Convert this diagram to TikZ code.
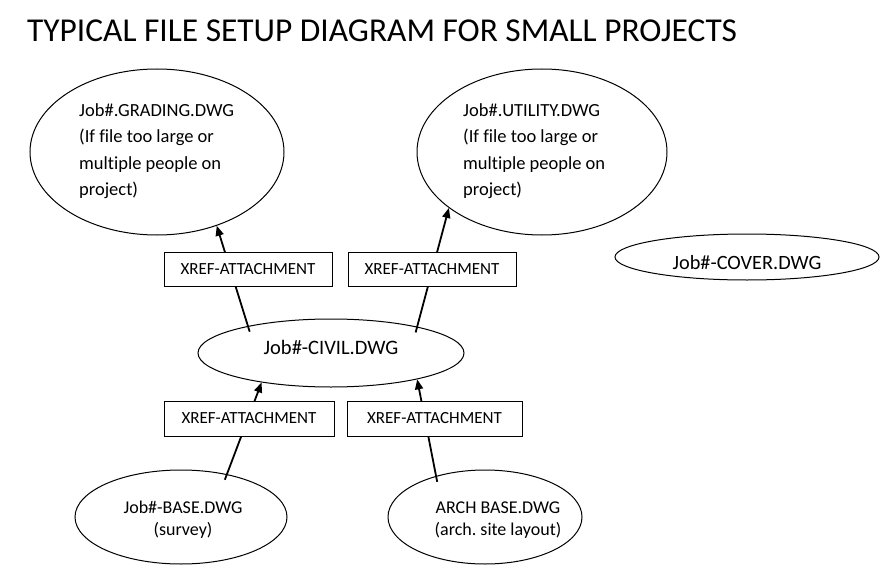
\documentclass[tikz,border=0pt]{standalone}
\usepackage{fontspec}
\setmainfont[Ligatures=NoCommon]{Carlito}
\usetikzlibrary{shapes.geometric,arrows.meta}
\frenchspacing
\tikzset{
  oval/.style={draw=black, ellipse, line width=1pt, inner sep=0pt},
  xbox/.style={draw=black, fill=white, line width=1pt, inner sep=0pt, font=\fontsize{17}{20}\selectfont},
  lbl/.style={inner sep=0pt},
  conn/.style={line width=1.8pt, -{Triangle[length=10pt,width=8pt]}, shorten <=-6pt},
}
\begin{document}
\begin{tikzpicture}[x=1pt,y=-1pt]
\useasboundingbox (0,0) rectangle (894,575);
% title
\node[anchor=west, inner sep=0pt, font=\fontsize{33.4}{40}\selectfont] (title) at (27,31) {TYPICAL FILE SETUP DIAGRAM FOR SMALL PROJECTS};
% ellipses
\node[oval, minimum width=254pt, minimum height=166pt] (grading) at (157,152) {};
\node[oval, minimum width=250pt, minimum height=166pt] (utility) at (542,152) {};
\node[oval, minimum width=266pt, minimum height=68pt] (civil) at (331,353) {};
\node[oval, minimum width=264pt, minimum height=46pt] (cover) at (747,257) {};
\node[oval, minimum width=212pt, minimum height=94pt] (base) at (181,517) {};
\node[oval, minimum width=194pt, minimum height=94pt] (arch) at (485,517) {};
% texts
\node[lbl, align=left, anchor=north west, font=\fontsize{18.5}{26.5}\selectfont] (gradingtxt) at (79,103) {Job\#.GRADING.DWG\\(If file too large or\\multiple people on\\project)};
\node[lbl, align=left, anchor=north west, font=\fontsize{18.5}{26.5}\selectfont] (utilitytxt) at (463,103) {Job\#.UTILITY.DWG\\(If file too large or\\multiple people on\\project)};
\node[lbl, font=\fontsize{20.5}{24}\selectfont] (civiltxt) at (331,347) {Job\#-CIVIL.DWG};
\node[lbl, font=\fontsize{20.3}{24}\selectfont] (covertxt) at (747,263) {Job\#-COVER.DWG};
\node[lbl, align=center, font=\fontsize{18}{22}\selectfont] (basetxt) at (183,520) {Job\#-BASE.DWG\\(survey)};
\node[lbl, align=center, font=\fontsize{18}{22}\selectfont] (archtxt) at (498,520) {ARCH BASE.DWG\\(arch. site layout)};
% connectors
\draw[conn] (civil.162) -- (grading.309);
\draw[conn] (civil.17) -- (utility.211);
\draw[conn] (base.43) -- (civil.203);
\draw[conn] (arch.140) -- (civil.343);
% xref boxes
\node[xbox, minimum width=168pt, minimum height=34pt] (x1) at (248,269) {XREF-ATTACHMENT};
\node[xbox, minimum width=168pt, minimum height=34pt] (x2) at (432,269) {XREF-ATTACHMENT};
\node[xbox, minimum width=170pt, minimum height=35pt] (x3) at (249,418.5) {XREF-ATTACHMENT};
\node[xbox, minimum width=175pt, minimum height=35pt] (x4) at (434.5,418.5) {XREF-ATTACHMENT};
\end{tikzpicture}
\end{document}
